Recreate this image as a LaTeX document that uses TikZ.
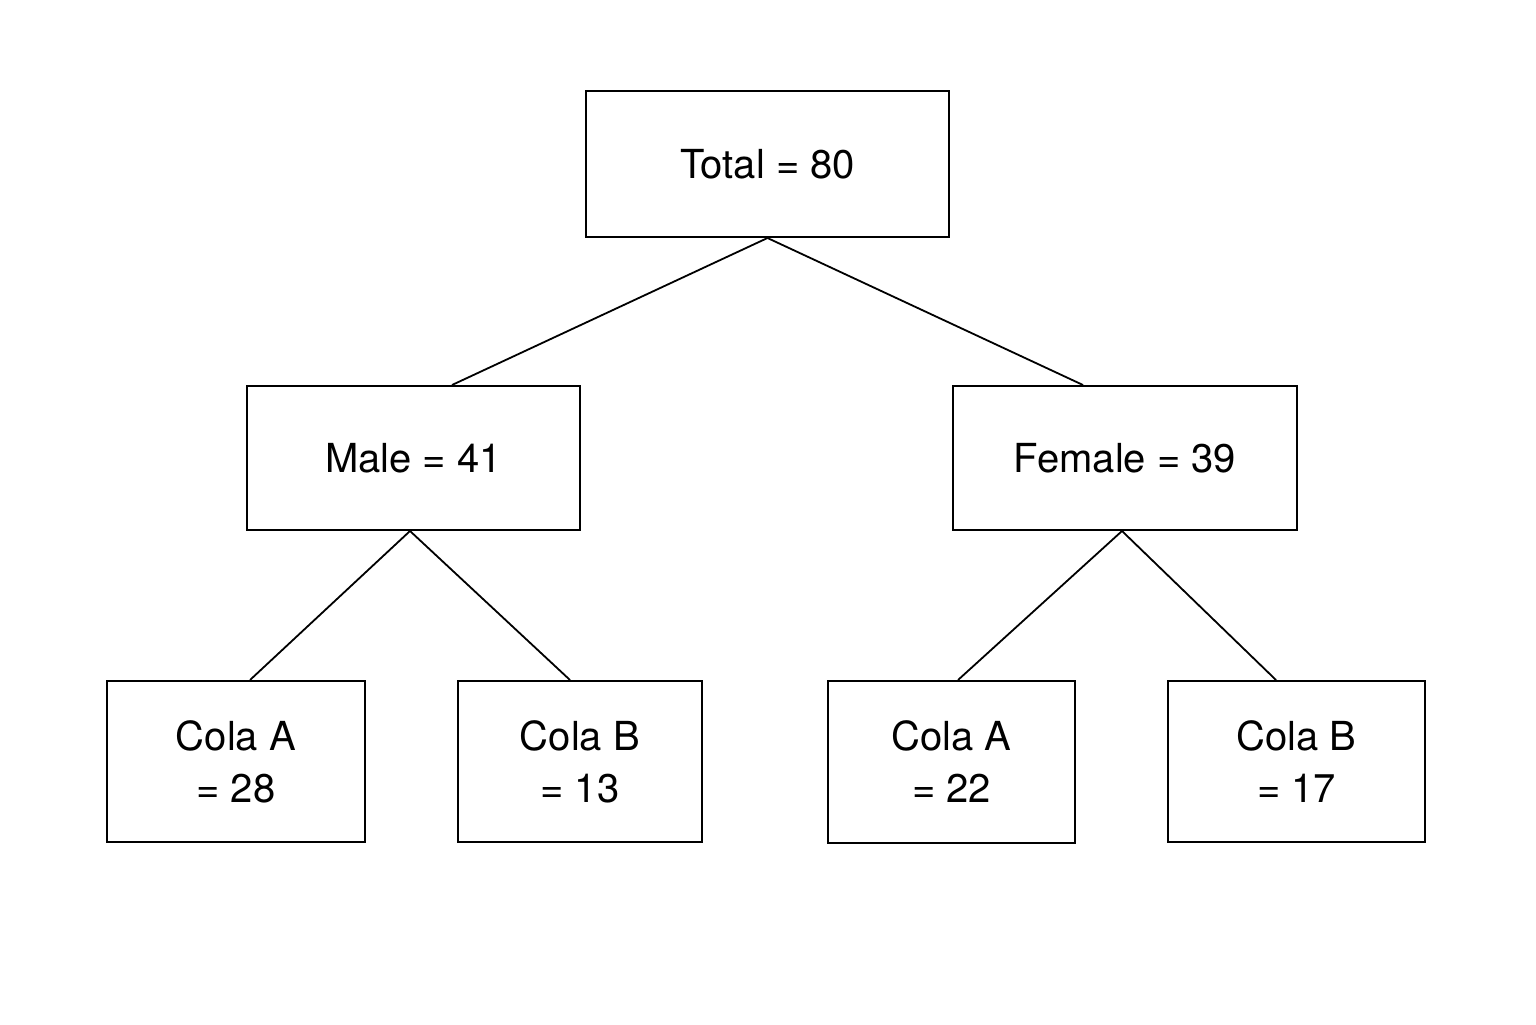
\documentclass[tikz,border=0pt]{standalone}
\usepackage{fontspec}
\setmainfont{TeX Gyre Heros}
\usetikzlibrary{calc}
\begin{document}
\begin{tikzpicture}[x=0.5pt,y=-0.5pt,
  box/.style={draw,line width=1pt,inner sep=0pt,align=center,font=\fontsize{20}{26}\selectfont},
  conn/.style={line width=0.9pt}]
\useasboundingbox (0,0) rectangle (1536,1024);
\node[box,minimum width=181.5pt,minimum height=73pt] (total) at (767.5,164) {Total = 80};
\node[box,minimum width=166.5pt,minimum height=72pt] (male) at (413.5,458) {Male = 41};
\node[box,minimum width=172pt,minimum height=72pt] (female) at (1125,458) {Female = 39};
\node[box,minimum width=129pt,minimum height=80.5pt] (ma) at (236,761.5) {Cola A\\= 28};
\node[box,minimum width=122pt,minimum height=80.5pt] (mb) at (580,761.5) {Cola B\\= 13};
\node[box,minimum width=123.5pt,minimum height=81pt] (fa) at (951.5,762) {Cola A\\= 22};
\node[box,minimum width=128.5pt,minimum height=80.5pt] (fb) at (1296.5,761.5) {Cola B\\= 17};
\draw[conn] (total.south) -- ($(male.north)+(38.5,0)$);
\draw[conn] (total.south) -- ($(female.north)+(-42,0)$);
\draw[conn] ($(male.south)+(-3.5,0)$) -- ($(ma.north)+(14,0)$);
\draw[conn] ($(male.south)+(-3.5,0)$) -- ($(mb.north)+(-10,0)$);
\draw[conn] ($(female.south)+(-3,0)$) -- ($(fa.north)+(6.5,0)$);
\draw[conn] ($(female.south)+(-3,0)$) -- ($(fb.north)+(-20.5,0)$);
\end{tikzpicture}
\end{document}
